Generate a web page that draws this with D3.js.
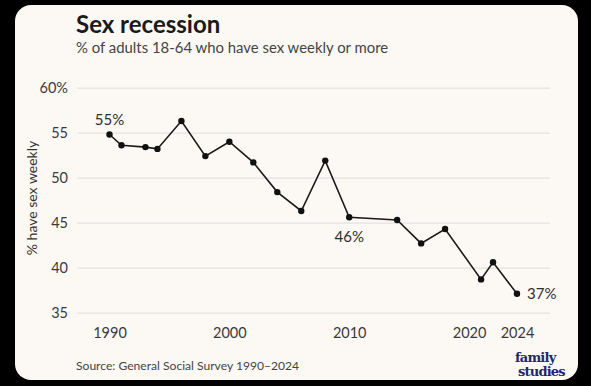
<!DOCTYPE html>
<html>
<head>
<meta charset="utf-8">
<script src="https://cdn.jsdelivr.net/npm/d3@7"></script>
<style>
  html, body { margin: 0; padding: 0; background: #000; }
  svg { display: block; font-family: Lato, sans-serif; }
</style>
</head>
<body>
<script>
// GSS survey years and share having sex weekly or more (%)
const years = [1990, 1991, 1993, 1994, 1996, 1998, 2000, 2002, 2004, 2006, 2008, 2010, 2014, 2016, 2018, 2021, 2022, 2024];
const values = [54.8, 53.6, 53.4, 53.2, 56.3, 52.4, 54.0, 51.7, 48.4, 46.3, 51.9, 45.6, 45.3, 42.7, 44.3, 38.7, 40.6, 37.1];
const xTicks = [1990, 2000, 2010, 2020, 2024];
const yTicks = [35, 40, 45, 50, 55, 60];
const callouts = [
	{ year: 1990, label: '55%' },
	{ year: 2010, label: '46%' },
	{ year: 2024, label: '37%' },
];

const W = 591;
const H = 386;

const data = years.map((y, i) => ({ year: y, value: values[i] }));

const svg = d3
	.select('body')
	.append('svg')
	.attr('width', W)
	.attr('height', H);

// card
svg.append('rect').attr('width', W).attr('height', H).attr('fill', '#000');
svg
	.append('rect')
	.attr('x', 15)
	.attr('y', 5)
	.attr('width', 563)
	.attr('height', 375)
	.attr('rx', 16)
	.attr('fill', '#fcf8f3');

const xscale = d3.scaleLinear().domain([1990, 2024]).range([109.5, 517]);
const yscale = d3.scaleLinear().domain([35, 60]).range([312.7, 87.7]);

// gridlines + y labels
const yAxis = d3
	.axisLeft(yscale)
	.tickValues(yTicks)
	.tickSize(-(550 - 77))
	.tickPadding(9)
	.tickFormat(d => (d === 60 ? '60%' : d));

svg
	.append('g')
	.attr('transform', 'translate(77,0)')
	.call(yAxis)
	.call(g => g.select('.domain').remove())
	.call(g => g.selectAll('.tick line').attr('stroke', '#e6e2e2').attr('stroke-width', 1.2))
	.call(g =>
		g
			.selectAll('.tick text')
			.attr('fill', '#3a3a3a')
			.style('font-size', '14.5px')
			.style('font-family', 'Lato, sans-serif')
	);

// x labels
const xAxis = d3
	.axisBottom(xscale)
	.tickValues(xTicks)
	.tickSize(0)
	.tickPadding(0)
	.tickFormat(d3.format('d'));

svg
	.append('g')
	.attr('transform', 'translate(0,328)')
	.call(xAxis)
	.call(g => g.select('.domain').remove())
	.call(g =>
		g
			.selectAll('.tick text')
			.attr('fill', '#3a3a3a')
			.style('font-size', '14.5px')
			.style('font-family', 'Lato, sans-serif')
	);

// line
const line = d3
	.line()
	.x(d => xscale(d.year))
	.y(d => yscale(d.value));

svg
	.append('path')
	.datum(data)
	.attr('d', line)
	.attr('fill', 'none')
	.attr('stroke', '#1a1a1a')
	.attr('stroke-width', 1.6)
	.attr('stroke-linejoin', 'miter');

svg
	.selectAll('circle.pt')
	.data(data)
	.enter()
	.append('circle')
	.attr('class', 'pt')
	.attr('cx', d => xscale(d.year))
	.attr('cy', d => yscale(d.value))
	.attr('r', 3.2)
	.attr('fill', '#111');

// callout labels
const byYear = new Map(data.map(d => [d.year, d]));
callouts.forEach(c => {
	const d = byYear.get(c.year);
	const t = svg
		.append('text')
		.attr('fill', '#2e2e2e')
		.style('font-size', '15px')
		.text(c.label);
	if (c.year === 2024) {
		t.attr('x', xscale(d.year) + 10).attr('y', yscale(d.value)).attr('dy', '0.35em');
	} else if (c.year === 1990) {
		t.attr('x', xscale(d.year)).attr('y', yscale(d.value) - 10).attr('text-anchor', 'middle');
	} else {
		t.attr('x', xscale(d.year)).attr('y', yscale(d.value) + 25).attr('text-anchor', 'middle');
	}
});

// y axis title
svg
	.append('text')
	.attr('transform', 'translate(37,198) rotate(-90)')
	.attr('text-anchor', 'middle')
	.attr('fill', '#333')
	.style('font-size', '14px')
	.text('% have sex weekly');

// titles
svg
	.append('text')
	.attr('x', 76)
	.attr('y', 33)
	.attr('fill', '#1a1a1a')
	.style('font-size', '24px')
	.style('font-weight', 700)
	.text('Sex recession');

svg
	.append('text')
	.attr('x', 76)
	.attr('y', 53)
	.attr('fill', '#444')
	.style('font-size', '14.9px')
	.text('% of adults 18-64 who have sex weekly or more');

svg
	.append('text')
	.attr('x', 76)
	.attr('y', 370)
	.attr('fill', '#444')
	.style('font-size', '12.1px')
	.text('Source: General Social Survey 1990\u20132024');

// logo
const logo = svg
	.append('g')
	.attr('fill', '#25246e')
	.style('font-family', '"DejaVu Serif", serif')
	.style('font-weight', 700)
	.style('letter-spacing', '-0.8px');
logo.append('text').attr('x', 515).attr('y', 362).style('font-size', '13px').text('family');
logo.append('text').attr('x', 518).attr('y', 376).style('font-size', '13px').text('studies');
</script>
</body>
</html>
